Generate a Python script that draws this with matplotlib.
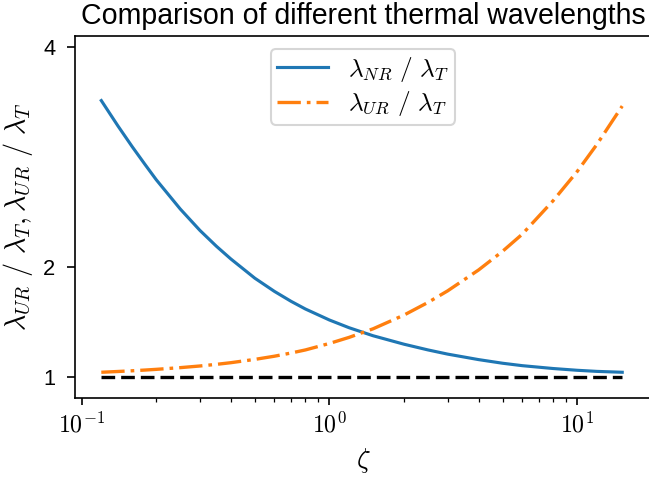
import math
import matplotlib
matplotlib.use("Agg")
import matplotlib.pyplot as plt
from matplotlib.ticker import FuncFormatter, NullFormatter, FixedLocator

plt.rcParams['font.family'] = ['Liberation Sans', 'DejaVu Sans']
plt.rcParams['mathtext.fontset'] = 'cm'

# values
zeta = [0.12, 0.14, 0.16, 0.18, 0.20, 0.25, 0.30, 0.35, 0.40, 0.50, 0.60,
        0.70, 0.80, 1.0, 1.2, 1.5, 2.0, 2.5, 3.0, 4.0, 5.0, 6.0, 8.0, 10.0,
        12.0, 15.2]
ratio_nr = [3.51, 3.28, 3.09, 2.93, 2.79, 2.524, 2.33, 2.185, 2.07, 1.895,
            1.775, 1.685, 1.615, 1.515, 1.445, 1.372, 1.295, 1.243, 1.205,
            1.155, 1.122, 1.100, 1.074, 1.058, 1.048, 1.04]
ratio_ur = [1.040, 1.047, 1.0535, 1.060, 1.0665, 1.082, 1.097, 1.112, 1.127,
            1.157, 1.186, 1.215, 1.243, 1.302, 1.357, 1.435, 1.56, 1.675, 1.78,
            1.97, 2.14, 2.295, 2.60, 2.865, 3.11, 3.46]

zeta_ref = [0.12, 15.2]
ratio_ref = [1.0, 1.0]

yticks = [1, 2, 4]
ytick_labels = ['1', '2', '4']

fig = plt.figure(figsize=(649 / 150, 478 / 150), dpi=150)
ax = fig.add_axes([75 / 649, 80 / 478, 576 / 649, 362 / 478])

ax.plot(zeta, ratio_nr, color='#1f77b4', lw=1.5,
        label=r'$\lambda_{NR}\ /\ \lambda_T$')
ax.plot(zeta, ratio_ur, color='#ff7f0e', lw=1.6, dashes=(7.0, 1.8, 1.1, 1.8),
        label=r'$\lambda_{UR}\ /\ \lambda_T$')
ax.plot(zeta_ref, ratio_ref, color='k', lw=1.6, dashes=(4.1, 1.8))

ax.set_xscale('log')
ax.set_xlim(10 ** -1.027, 10 ** 1.298)
ax.set_ylim(0.806, 4.097)
ax.yaxis.set_major_locator(FixedLocator(yticks))
ax.set_yticklabels(ytick_labels)
ax.xaxis.set_major_formatter(FuncFormatter(lambda v, p: r'$10^{%d}$' % round(math.log10(v))))
ax.xaxis.set_minor_formatter(NullFormatter())
ax.tick_params(axis='y', which='major', length=4, pad=5.5, labelsize=10.5)
ax.tick_params(axis='x', which='major', labelsize=11.5)

ax.set_xlabel(r'$\zeta$', fontsize=13)
ax.set_ylabel(r'$\lambda_{UR}\ /\ \lambda_T, \lambda_{UR}\ /\ \lambda_T$', fontsize=13.5)
ax.set_title('Comparison of different thermal wavelengths', fontsize=13.7)
ax.legend(loc='upper center', fontsize=12.2, borderpad=0.24, labelspacing=0.22)

fig.savefig('out.png', dpi=150)
